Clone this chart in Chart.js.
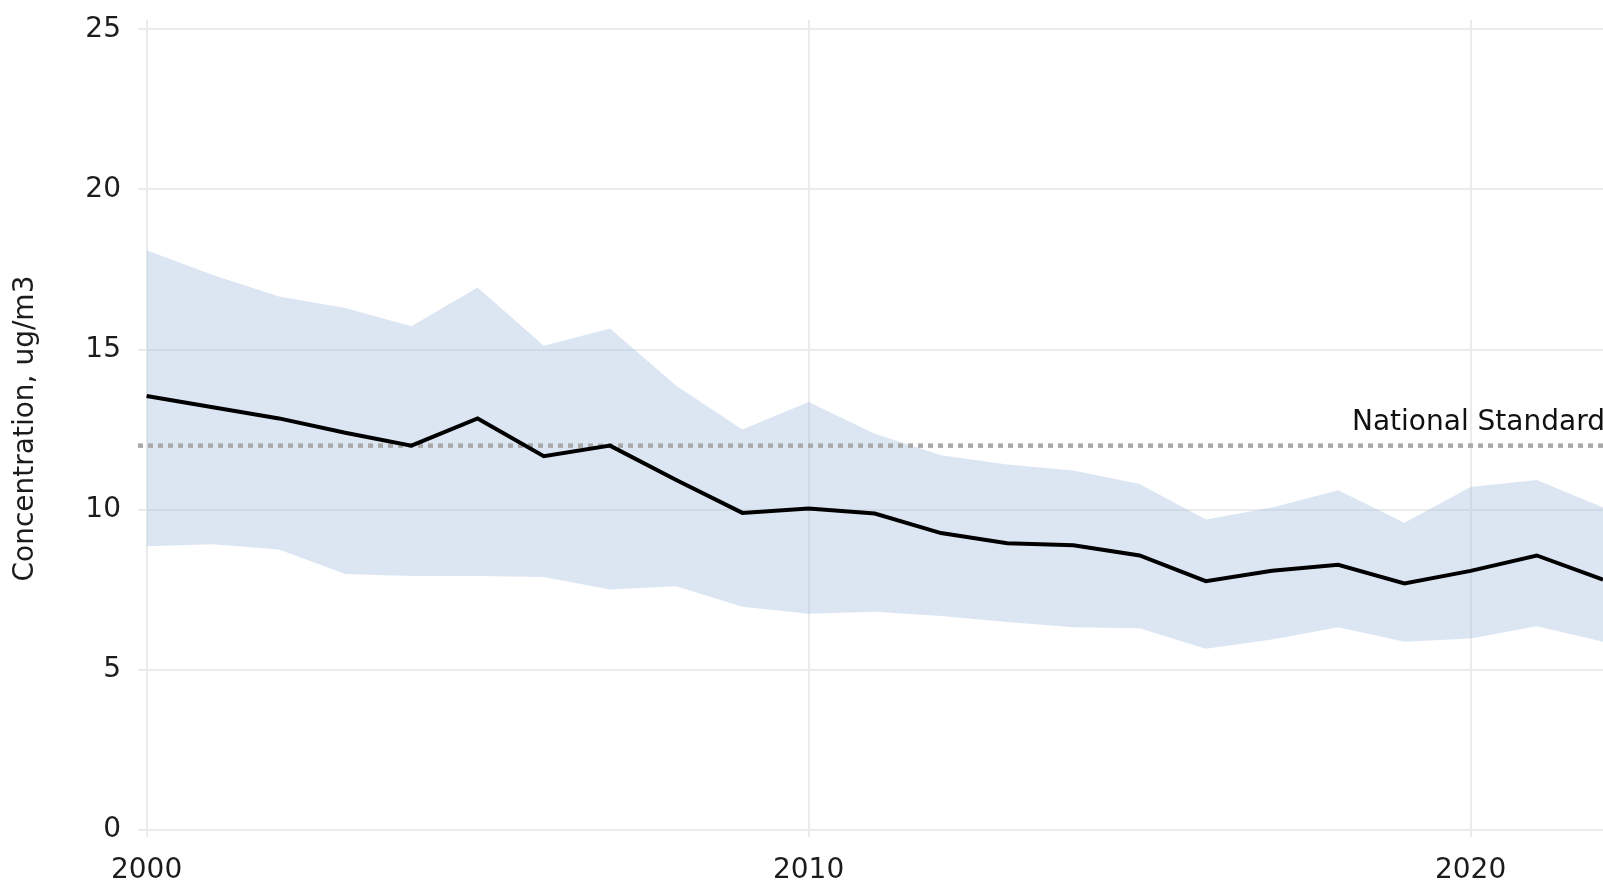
<!DOCTYPE html>
<html>
<head>
<meta charset="utf-8">
<script src="https://cdn.jsdelivr.net/npm/chart.js@4.4.1/dist/chart.umd.min.js"></script>
<style>
  html, body { margin: 0; padding: 0; background: #fff; }
  canvas { display: block; }
</style>
</head>
<body>
<canvas id="grafico" width="1603" height="882"></canvas>
<script>
// Anos e valores
const anos = [2000, 2001, 2002, 2003, 2004, 2005, 2006, 2007, 2008, 2009, 2010,
  2011, 2012, 2013, 2014, 2015, 2016, 2017, 2018, 2019, 2020, 2021, 2022];
const media = [13.55, 13.2, 12.85, 12.4, 12.0, 12.85, 11.67, 12.0, 10.93, 9.9, 10.04,
  9.88, 9.27, 8.95, 8.89, 8.57, 7.77, 8.09, 8.28, 7.7, 8.09, 8.57, 7.82];
const faixaSuperior = [18.1, 17.33, 16.66, 16.3, 15.73, 16.94, 15.12, 15.66, 13.87, 12.5, 13.36,
  12.37, 11.7, 11.41, 11.22, 10.8, 9.69, 10.07, 10.61, 9.59, 10.71, 10.93, 10.07];
const faixaInferior = [8.86, 8.92, 8.76, 7.99, 7.93, 7.93, 7.9, 7.51, 7.61, 6.97, 6.75,
  6.81, 6.68, 6.49, 6.33, 6.3, 5.66, 5.95, 6.33, 5.88, 5.98, 6.36, 5.88];
const padraoNacional = 12;
const rotuloPadrao = 'National Standard';
const ticksX = [2000, 2010, 2020];
const ticksY = [0, 5, 10, 15, 20, 25];

const pares = (valores) => anos.map((a, i) => ({ x: a, y: valores[i] }));

const fonte = { family: 'DejaVu Sans', size: 28 };
const corTexto = '#1c1c1c';
const corGrade = '#ebebeb';

// Linha pontilhada do padrão nacional, desenhada logo antes da linha preta
const linhaPadrao = {
  id: 'linhaPadrao',
  beforeDatasetDraw(chart, args) {
    if (args.index !== 0) return;
    const { ctx, chartArea } = chart;
    const y = chart.scales.y.getPixelForValue(padraoNacional);
    ctx.save();
    ctx.strokeStyle = '#a9a9a9';
    ctx.lineWidth = 4.5;
    ctx.setLineDash([5, 5]);
    ctx.beginPath();
    ctx.moveTo(chartArea.left, y);
    ctx.lineTo(chartArea.right, y);
    ctx.stroke();
    ctx.setLineDash([]);
    ctx.fillStyle = '#111';
    ctx.font = '28px "DejaVu Sans"';
    ctx.textAlign = 'left';
    ctx.textBaseline = 'alphabetic';
    ctx.fillText(rotuloPadrao, chartArea.right - 251, y - 16);
    ctx.restore();
  }
};

const ctx = document.getElementById('grafico').getContext('2d');

new Chart(ctx, {
  type: 'line',
  data: {
    datasets: [
      {
        data: pares(media),
        borderColor: '#000',
        borderWidth: 4,
        pointRadius: 0,
        fill: false,
        tension: 0
      },
      {
        data: pares(faixaSuperior),
        borderWidth: 0,
        borderColor: 'rgba(0,0,0,0)',
        backgroundColor: 'rgba(167,192,225,0.4)',
        pointRadius: 0,
        fill: '+1',
        tension: 0
      },
      {
        data: pares(faixaInferior),
        borderWidth: 0,
        borderColor: 'rgba(0,0,0,0)',
        pointRadius: 0,
        fill: false,
        tension: 0
      }
    ]
  },
  options: {
    responsive: false,
    animation: false,
    devicePixelRatio: 1,
    layout: { padding: { top: 20, right: 0, left: 0, bottom: 0 } },
    plugins: {
      legend: { display: false },
      tooltip: { enabled: false }
    },
    scales: {
      x: {
        type: 'linear',
        min: 1999.87,
        max: 2022,
        afterFit(scale) {
          scale.height = 45;
          scale.paddingLeft = 0;
          scale.paddingRight = 0;
        },
        afterBuildTicks(scale) { scale.ticks = ticksX.map(v => ({ value: v })); },
        border: { display: false },
        grid: { color: corGrade, lineWidth: 2, drawTicks: false },
        ticks: {
          padding: 17,
          color: corTexto,
          font: fonte,
          maxRotation: 0,
          autoSkip: false,
          callback: (v) => String(v)
        }
      },
      y: {
        min: -0.22,
        max: 25.29,
        afterFit(scale) {
          scale.width = 138;
          scale.paddingTop = 0;
          scale.paddingBottom = 0;
        },
        afterBuildTicks(scale) { scale.ticks = ticksY.map(v => ({ value: v })); },
        border: { display: false },
        grid: { color: corGrade, lineWidth: 2, drawTicks: false },
        ticks: {
          padding: 17,
          color: corTexto,
          font: fonte,
          callback: (v) => String(v)
        },
        title: {
          display: true,
          text: 'Concentration, ug/m3',
          color: corTexto,
          font: fonte,
          padding: { top: 9, bottom: 0 }
        }
      }
    }
  },
  plugins: [linhaPadrao]
});
</script>
</body>
</html>
